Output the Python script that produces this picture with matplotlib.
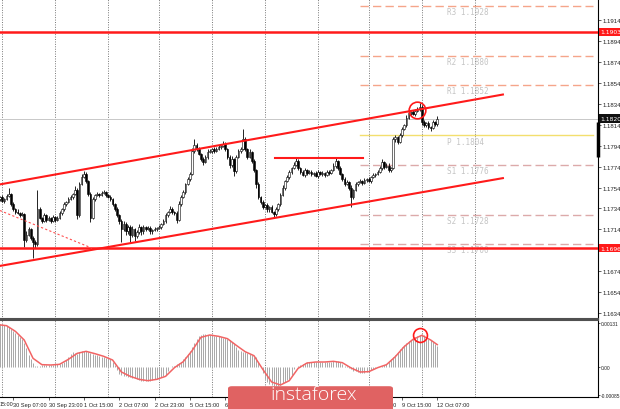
import numpy as np
import matplotlib.pyplot as plt
from matplotlib.patches import FancyBboxPatch
from matplotlib.transforms import blended_transform_factory

# EURUSD H1 bars (oldest first)
closes = [
    1.1743, 1.1745, 1.1741, 1.1743, 1.1746, 1.1748, 1.1738, 1.1733, 1.1731, 1.1730,
    1.1728, 1.1729, 1.1704, 1.1709, 1.1714, 1.1706, 1.1702, 1.1700, 1.1733, 1.1725,
    1.1722, 1.1728, 1.1723, 1.1725, 1.1722, 1.1726, 1.1723, 1.1725, 1.1730, 1.1733,
    1.1738, 1.1740, 1.1743, 1.1745, 1.1748, 1.1752, 1.1728, 1.1757, 1.1764, 1.1767,
    1.1760, 1.1748, 1.1725, 1.1743, 1.1747, 1.1748, 1.1747, 1.1749, 1.1750, 1.1747,
    1.1745, 1.1743, 1.1738, 1.1733, 1.1728, 1.1722, 1.1714, 1.1719, 1.1712, 1.1716,
    1.1709, 1.1714, 1.1708, 1.1711, 1.1716, 1.1712, 1.1716, 1.1714, 1.1715, 1.1712,
    1.1713, 1.1714, 1.1715, 1.1716, 1.1719, 1.1722, 1.1728, 1.1731, 1.1733, 1.1731,
    1.1730, 1.1723, 1.1738, 1.1745, 1.1750, 1.1757, 1.1762, 1.1767, 1.1789, 1.1795,
    1.1791, 1.1786, 1.1781, 1.1778, 1.1783, 1.1788, 1.1789, 1.1791, 1.1789, 1.1791,
    1.1793, 1.1794, 1.1796, 1.1791, 1.1783, 1.1776, 1.1781, 1.1770, 1.1783, 1.1789,
    1.1791, 1.1800, 1.1791, 1.1783, 1.1788, 1.1779, 1.1771, 1.1757, 1.1745, 1.1740,
    1.1735, 1.1737, 1.1733, 1.1735, 1.1731, 1.1729, 1.1733, 1.1738, 1.1747, 1.1754,
    1.1760, 1.1764, 1.1769, 1.1773, 1.1776, 1.1779, 1.1773, 1.1769, 1.1766, 1.1771,
    1.1768, 1.1769, 1.1767, 1.1768, 1.1765, 1.1769, 1.1767, 1.1768, 1.1766, 1.1769,
    1.1768, 1.1771, 1.1775, 1.1779, 1.1773, 1.1767, 1.1762, 1.1757, 1.1759, 1.1754,
    1.1745, 1.1752, 1.1757, 1.1759, 1.1760, 1.1758, 1.1761, 1.1762, 1.1760, 1.1764,
    1.1766, 1.1767, 1.1769, 1.1773, 1.1778, 1.1774, 1.1775, 1.1771, 1.1773, 1.1800,
    1.1802, 1.1798, 1.1804, 1.1810, 1.1814, 1.1821, 1.1825, 1.1826, 1.1824, 1.1827,
    1.1829, 1.1831, 1.1817, 1.1814, 1.1816, 1.1812, 1.1811, 1.1817, 1.1815, 1.1820,
]
first_open = 1.1742

# wick lengths in pips above / below the candle body
upper_wick = [
    2, 1, 2, 1, 2, 6, 1, 2, 1, 2,
    1, 2, 1, 3, 2, 1, 2, 2, 19, 2,
    1, 2, 1, 2, 1, 2, 1, 2, 2, 1,
    2, 1, 2, 2, 1, 3, 2, 2, 3, 3,
    2, 1, 2, 2, 1, 2, 1, 2, 2, 1,
    1, 2, 1, 1, 2, 1, 2, 3, 2, 2,
    2, 3, 1, 2, 3, 1, 2, 1, 2, 2,
    1, 2, 1, 2, 1, 2, 2, 1, 3, 2,
    1, 2, 3, 2, 2, 1, 2, 2, 3, 5,
    2, 2, 1, 2, 2, 3, 2, 1, 2, 2,
    2, 1, 3, 2, 1, 2, 3, 1, 2, 2,
    2, 10, 2, 1, 3, 1, 2, 1, 2, 1,
    2, 1, 2, 1, 2, 1, 2, 1, 2, 2,
    1, 2, 2, 1, 2, 4, 2, 1, 2, 2,
    1, 2, 2, 1, 2, 2, 1, 2, 1, 2,
    2, 1, 2, 4, 1, 2, 1, 2, 2, 1,
    2, 1, 2, 1, 2, 1, 2, 1, 2, 1,
    2, 1, 2, 2, 3, 1, 2, 2, 1, 2,
    2, 1, 2, 2, 1, 2, 2, 1, 2, 2,
    2, 4, 2, 2, 1, 2, 1, 2, 1, 2,
]
lower_wick = [
    1, 2, 1, 2, 1, 1, 2, 1, 2, 1,
    2, 1, 7, 2, 1, 2, 15, 4, 2, 1,
    2, 1, 2, 1, 2, 1, 2, 1, 1, 2,
    1, 2, 1, 1, 2, 1, 4, 2, 1, 1,
    2, 2, 4, 1, 2, 1, 2, 1, 1, 2,
    1, 2, 2, 1, 2, 3, 12, 2, 3, 2,
    7, 2, 5, 2, 1, 3, 2, 2, 1, 2,
    2, 1, 2, 1, 2, 1, 2, 2, 1, 2,
    2, 3, 1, 2, 1, 2, 1, 2, 1, 2,
    2, 1, 2, 2, 1, 2, 1, 2, 2, 1,
    1, 2, 1, 2, 2, 3, 2, 5, 2, 1,
    2, 1, 2, 2, 1, 2, 2, 3, 2, 2,
    2, 1, 2, 2, 1, 3, 2, 1, 2, 1,
    2, 1, 2, 2, 1, 1, 2, 2, 1, 2,
    2, 1, 2, 2, 1, 2, 1, 2, 2, 1,
    2, 1, 1, 2, 2, 1, 2, 2, 1, 2,
    10, 2, 1, 2, 1, 2, 1, 2, 1, 2,
    1, 2, 1, 1, 2, 2, 1, 2, 2, 1,
    2, 2, 1, 2, 1, 2, 1, 2, 1, 2,
    1, 2, 3, 2, 2, 2, 3, 1, 2, 2,
]

# MACD main (histogram), one value per bar
macd_hist = [
    0.00128, 0.00127, 0.00126, 0.00124, 0.00122, 0.00118, 0.00113, 0.00107, 0.00100, 0.00094,
    0.00088, 0.00082, 0.00072, 0.00055, 0.00035, 0.00022, 0.00010, 0.00003, 0.00003, 0.00003,
    0.00004, 0.00004, 0.00005, 0.00005, 0.00005, 0.00006, 0.00006, 0.00007, 0.00008, 0.00010,
    0.00014, 0.00020, 0.00028, 0.00038, 0.00043, 0.00042, 0.00038, 0.00044, 0.00047, 0.00048,
    0.00047, 0.00045, 0.00042, 0.00038, 0.00035, 0.00034, 0.00032, 0.00030, 0.00029, 0.00027,
    0.00025, 0.00023, 0.00015, 0.00004, -0.00010, -0.00022, -0.00026, -0.00027, -0.00029, -0.00030,
    -0.00031, -0.00033, -0.00035, -0.00038, -0.00040, -0.00042, -0.00043, -0.00043, -0.00043, -0.00042,
    -0.00041, -0.00038, -0.00036, -0.00033, -0.00030, -0.00028, -0.00024, -0.00012, -0.00002, 0.00001,
    0.00003, 0.00008, 0.00012, 0.00015, 0.00022, 0.00030, 0.00038, 0.00048, 0.00060, 0.00072,
    0.00084, 0.00092, 0.00096, 0.00098, 0.00097, 0.00096, 0.00095, 0.00094, 0.00093, 0.00092,
    0.00091, 0.00089, 0.00087, 0.00085, 0.00083, 0.00080, 0.00075, 0.00068, 0.00060, 0.00050,
    0.00046, 0.00044, 0.00043, 0.00041, 0.00038, 0.00034, 0.00030, 0.00028, 0.00015, -0.00002,
    -0.00020, -0.00036, -0.00045, -0.00052, -0.00056, -0.00058, -0.00058, -0.00057, -0.00055, -0.00050,
    -0.00045, -0.00040, -0.00037, -0.00025, -0.00007, 0.00000, 0.00002, 0.00005, 0.00008, 0.00011,
    0.00013, 0.00014, 0.00014, 0.00014, 0.00014, 0.00014, 0.00014, 0.00014, 0.00014, 0.00014,
    0.00014, 0.00015, 0.00016, 0.00017, 0.00017, 0.00014, 0.00008, 0.00003, 0.00002, -0.00003,
    -0.00008, -0.00012, -0.00014, -0.00016, -0.00018, -0.00019, -0.00018, -0.00016, -0.00013, -0.00010,
    -0.00007, -0.00004, -0.00001, 0.00000, 0.00003, 0.00006, 0.00008, 0.00014, 0.00022, 0.00029,
    0.00036, 0.00043, 0.00052, 0.00059, 0.00065, 0.00070, 0.00076, 0.00080, 0.00084, 0.00088,
    0.00092, 0.00095, 0.00098, 0.00095, 0.00090, 0.00084, 0.00079, 0.00074, 0.00068, 0.00062,
]

# MACD signal line, read every 4 bars
signal_idx = [0, 4, 8, 12, 16, 20, 24, 28, 32, 36, 40, 44, 48, 52, 56, 60, 64, 68, 72, 76,
              80, 84, 88, 92, 96, 100, 104, 108, 112, 116, 120, 124, 128, 132, 136, 140, 144,
              148, 152, 156, 160, 164, 168, 172, 176, 180, 184, 188, 192, 196, 199]
signal_val = [0.00126, 0.00123, 0.00106, 0.00080, 0.00025, 0.00006, 0.00005, 0.00007, 0.00022,
              0.00040, 0.00046, 0.00039, 0.00031, 0.00020, -0.00016, -0.00029, -0.00038,
              -0.00042, -0.00038, -0.00029, -0.00003, 0.00015, 0.00048, 0.00088, 0.00095,
              0.00091, 0.00084, 0.00064, 0.00045, 0.00033, -0.00008, -0.00046, -0.00055,
              -0.00042, -0.00005, 0.00011, 0.00014, 0.00014, 0.00016, 0.00012, -0.00004,
              -0.00016, -0.00015, -0.00003, 0.00006, 0.00030, 0.00060, 0.00082, 0.00094,
              0.00080, 0.00066]

# time axis labels (every 16 bars); the first one is cut by the left edge
time_ticks = [7, 23, 39, 55, 71, 87, 103, 119, 135, 151, 167, 183, 199]
time_labels = ['30 Sep 07:00', '30 Sep 23:00', '1 Oct 15:00', '2 Oct 07:00',
               '2 Oct 23:00', '5 Oct 15:00', '6 Oct 07:00', '6 Oct 23:00', '7 Oct 15:00',
               '8 Oct 07:00', '8 Oct 23:00', '9 Oct 15:00', '12 Oct 07:00']
cut_label = '15:00'

price_ticks = [1.1914, 1.1894, 1.1874, 1.1854, 1.1834, 1.1814, 1.1794, 1.1774, 1.1754,
               1.1734, 1.1714, 1.1674, 1.1654, 1.1634]

# levels
resistance_level = 1.1903
support_level = 1.1696
last_price = 1.1820
pivot_names = ['R3', 'R2', 'R1', 'P', 'S1', 'S2', 'S3']
pivot_values = [1.1928, 1.1880, 1.1852, 1.1804, 1.1776, 1.1728, 1.1700]

# trend channel and drawn lines (bar index, price)
upper_channel = ([1.0, 228.7], [1.1757, 1.1843])
lower_channel = ([1.0, 228.7], [1.1679, 1.1763])
flat_line = ([125.5, 165.4], [1.1782, 1.1782])
dotted_line = ([1.0, 42.7], [1.1732, 1.1696])
circle_price = (189.8, 1.1828)
circle_macd = (191.2, 0.00095)


def draw_candles(ax):
    n = len(closes)
    opens = [first_open] + closes[:-1]
    idx = np.arange(n)
    c = np.array(closes)
    o = np.array(opens)
    top = np.maximum(o, c)
    bot = np.minimum(o, c)
    highs = top + np.array(upper_wick) / 10000
    lows = bot - np.array(lower_wick) / 10000

    ax.vlines(idx, lows, highs, color='black', lw=0.6, zorder=3)
    up = c >= o
    body = np.maximum(top - bot, 0.00004)
    ax.bar(idx[up], body[up], bottom=bot[up], width=0.75, color='white',
           edgecolor='black', linewidth=0.4, zorder=4)
    ax.bar(idx[~up], body[~up], bottom=bot[~up], width=0.75, color='black',
           edgecolor='black', linewidth=0.4, zorder=4)


fig = plt.figure(figsize=(6.2, 4.1), dpi=100)
W, H = 620, 410
ax = fig.add_axes([0, 1 - 320 / H, 598 / W, 320 / H])
ax2 = fig.add_axes([0, 1 - 398 / H, 598 / W, 77 / H])

xmin, xmax = 1.04, 271.75
grid_x = [2, 26, 50, 73, 97, 121, 145, 168, 192, 216]

# ---- main price panel ----
for g in grid_x:
    ax.axvline(g, color='#777777', lw=0.7, linestyle=(0, (1, 1.5)), zorder=1)

ax.axhline(last_price, color='#c8c8c8', lw=0.7, zorder=1)

# pivot levels
for name, val in zip(pivot_names, pivot_values):
    if name == 'P':
        col, ls = '#f3df6e', '-'
    elif name.startswith('R'):
        col, ls = '#f5a58a', (0, (6, 3))
    else:
        col, ls = '#dcaaaa', (0, (6, 3))
    ax.plot([164, 269.5], [val, val], color=col, lw=1.0, linestyle=ls, zorder=2)
    ax.text(203.5, val - 0.00012, f'{name} {val:.4f}', color='#c4c4c4', fontsize=5.5,
            family='DejaVu Sans Mono', va='top', ha='left', zorder=2)

draw_candles(ax)

ax.axhline(resistance_level, color='#ff1a1a', lw=1.8, zorder=5)
ax.axhline(support_level, color='#ff1a1a', lw=1.8, zorder=5)
ax.plot(*upper_channel, color='#ff1a1a', lw=1.5, zorder=5)
ax.plot(*lower_channel, color='#ff1a1a', lw=1.5, zorder=5)
ax.plot(*flat_line, color='#ff1a1a', lw=1.5, zorder=5)
ax.plot(*dotted_line, color='#ff5050', lw=0.8, linestyle=(0, (2, 2)), zorder=5)
ax.plot(*circle_price, 'o', ms=12, mfc='none', mec='#ff1a1a', mew=1.2, zorder=6)

ax.yaxis.tick_right()
ax.set_yticks(price_ticks)
ax.set_yticklabels([f'{p:.4f}' for p in price_ticks])
ax.tick_params(axis='y', labelsize=4.3, length=2, width=0.5, pad=1.5, colors='#222222')
ax.set_xticks([])
ax.set_xlim(xmin, xmax)
ax.set_ylim(1.16282, 1.19344)
for s in ['left', 'top']:
    ax.spines[s].set_visible(False)
ax.spines['right'].set_linewidth(0.8)
ax.spines['bottom'].set_linewidth(1.5)
ax.spines['bottom'].set_color('#505050')

# value boxes on the price scale
tr = blended_transform_factory(ax.transAxes, ax.transData)
for val, bg in [(resistance_level, '#ff1a1a'), (support_level, '#ff1a1a'), (last_price, '#111111')]:
    ax.text(1.004, val, f'{val:.4f}', transform=tr, fontsize=4.3, color='white',
            va='center', ha='left', clip_on=False, zorder=7,
            bbox=dict(boxstyle='square,pad=0.3', fc=bg, ec='none'))
ax.plot([xmax, xmax], [1.1783, 1.1817], color='black', lw=2.5, clip_on=False,
        solid_capstyle='butt', zorder=7)

# ---- MACD panel ----
for g in grid_x:
    ax2.axvline(g, color='#777777', lw=0.7, linestyle=(0, (1, 1.5)), zorder=1)
ax2.vlines(np.arange(len(macd_hist)), 0, macd_hist, color='#a8a8a8', lw=0.7, zorder=2)
ax2.plot(signal_idx, signal_val, color='#f26464', lw=1.1, zorder=3)
ax2.plot(*circle_macd, 'o', ms=10, mfc='none', mec='#ff1a1a', mew=1.2, zorder=6)

ax2.yaxis.tick_right()
ax2.set_yticks([0.00131, 0.0, -0.00085])
ax2.set_yticklabels(['0.00131', '0.00', '-0.00085'])
ax2.tick_params(axis='y', labelsize=3.5, length=1.5, width=0.5, pad=0.8, colors='#222222')
ax2.set_xticks(time_ticks)
ax2.set_xticklabels(time_labels)
ax2.tick_params(axis='x', labelsize=4.1, length=2, width=0.5, pad=1.5, colors='#222222')
for lbl in ax2.get_xticklabels():
    lbl.set_ha('left')
ax2.set_xlim(xmin, xmax)
ax2.set_ylim(-0.00091, 0.00140)
ax2.spines['left'].set_visible(False)
ax2.spines['top'].set_linewidth(1.5)
ax2.spines['top'].set_color('#505050')
ax2.spines['right'].set_linewidth(0.8)
ax2.spines['bottom'].set_linewidth(0.8)

for t in ax.get_yticklabels() + ax2.get_yticklabels() + ax2.get_xticklabels():
    t.set_family('Liberation Sans')

ax2.text(0.0, -0.09, cut_label, transform=ax2.transAxes, fontsize=3.9, color='#222222',
         family='Liberation Sans', ha='left', va='center', clip_on=False)

# watermark logo
logo = FancyBboxPatch((228 / W, -0.02), 165 / W, 31 / H, boxstyle='round,pad=0,rounding_size=0.006',
                      transform=fig.transFigure, fc='#e06262', ec='none', zorder=20)
fig.patches.append(logo)
fig.text(314 / W, 15 / H, 'instaforex', color='white', fontsize=14, family='Open Sans',
         fontweight='light', ha='center', va='center', zorder=21)

fig.savefig('out.png', dpi=100)
